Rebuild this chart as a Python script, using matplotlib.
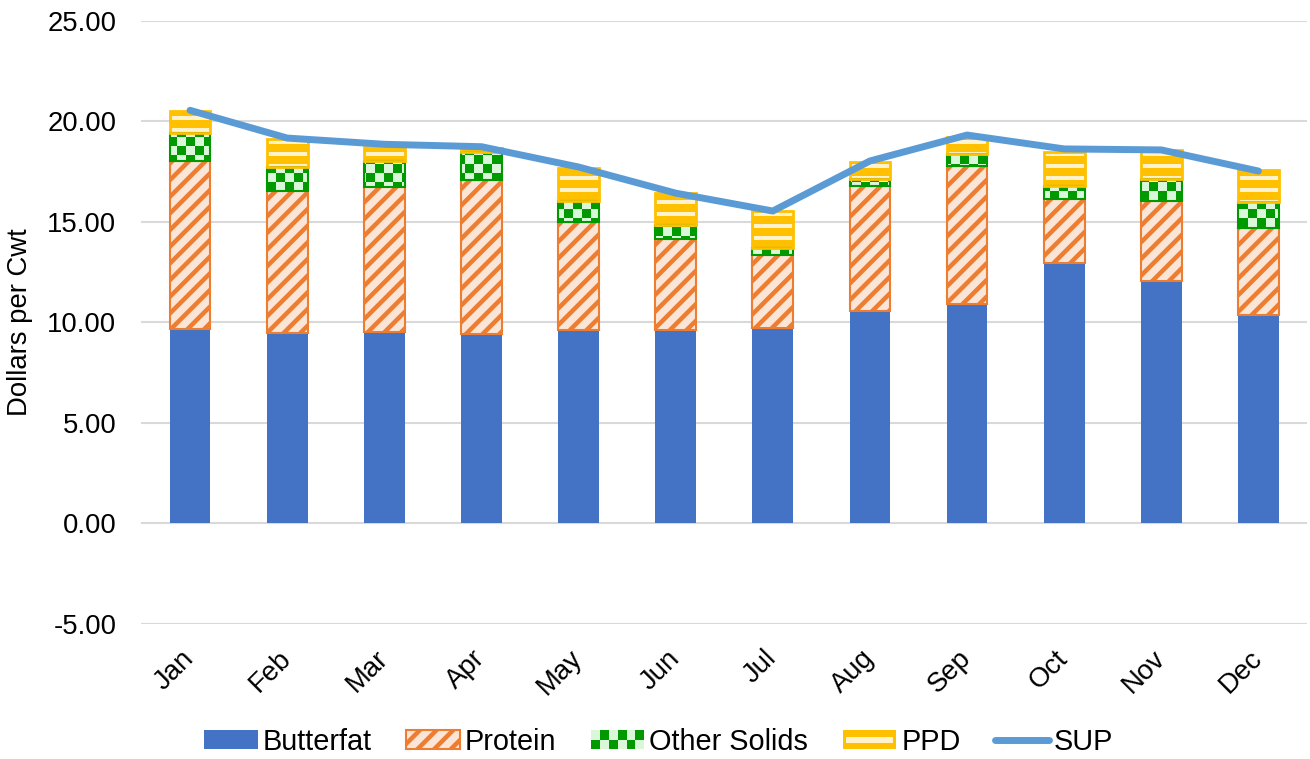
import numpy as np
import matplotlib
matplotlib.use('Agg')
import matplotlib.pyplot as plt
from matplotlib.patches import Rectangle, Patch
from matplotlib.lines import Line2D
from matplotlib.colors import ListedColormap
from matplotlib.path import Path
from matplotlib.legend_handler import HandlerBase

plt.rcParams['font.family'] = ['Liberation Sans', 'DejaVu Sans']
plt.rcParams['hatch.linewidth'] = 3.2

# Data (dollars per cwt)
mois = ['Jan', 'Feb', 'Mar', 'Apr', 'May', 'Jun', 'Jul', 'Aug', 'Sep', 'Oct', 'Nov', 'Dec']
butterfat = [9.66, 9.46, 9.51, 9.41, 9.61, 9.61, 9.71, 10.56, 10.91, 12.95, 12.05, 10.36]
protein = [8.37, 7.07, 7.22, 7.67, 5.38, 4.53, 3.64, 6.22, 6.87, 3.19, 3.99, 4.33]
other_solids = [1.39, 1.20, 1.30, 1.40, 1.05, 0.70, 0.35, 0.35, 0.60, 0.64, 1.09, 1.30]
ppd = [1.10, 1.39, 0.70, 0.19, 1.64, 1.59, 1.84, 0.85, 0.84, 1.70, 1.45, 1.59]
sup = [20.55, 19.17, 18.86, 18.74, 17.73, 16.43, 15.54, 18.03, 19.32, 18.63, 18.58, 17.53]

# Colours
bleu = '#4472C4'
orange = '#ED7D31'
peche = '#FBE5D6'
vert = '#009A00'
vert_clair = '#DAF7DA'
jaune = '#FFC000'
jaune_clair = '#FFF2CC'
bleu_clair = '#5B9BD5'
gris = '#D9D9D9'

fs = 19.8

fig = plt.figure(figsize=(13.1, 7.59), dpi=100)
pos = [0.108, 0.178, 0.8897, 0.7945]
ax = fig.add_axes(pos)

x = np.arange(len(mois))
largeur = 0.42
bas2 = np.array(butterfat) + np.array(protein)
bas3 = bas2 + np.array(other_solids)

ax.bar(x, butterfat, largeur, color=bleu, zorder=2)
ax.bar(x, protein, largeur, bottom=butterfat, facecolor=peche, edgecolor=orange,
       hatch='//', linewidth=1.5, zorder=2)
b3 = ax.bar(x, other_solids, largeur, bottom=bas2, color=vert, linewidth=0, zorder=2)
b4 = ax.bar(x, ppd, largeur, bottom=bas3, color=jaune, linewidth=0, zorder=2)
ax.plot(x, sup, color=bleu_clair, linewidth=5, solid_capstyle='round', zorder=4)

ax.set_xlim(-0.5, 11.5)
ax.set_ylim(-5, 25)

# checker and stripe fills, drawn as images clipped to the bars
W = int(round(fig.get_figwidth() * fig.dpi * pos[2]))
H = int(round(fig.get_figheight() * fig.dpi * pos[3]))
lignes, colonnes = np.indices((H, W))
damier = (lignes // 9 + colonnes // 9) % 2
rayures = ((lignes % 12) < 4).astype(int)


def motif(barres, tableau, couleurs):
    chemins = [b.get_path().transformed(b.get_patch_transform()) for b in barres]
    clip = Path.make_compound_path(*chemins)
    img = ax.imshow(tableau, cmap=ListedColormap(couleurs), extent=(-0.5, 11.5, -5, 25),
                    aspect='auto', interpolation='nearest', zorder=2.5)
    img.set_clip_path(clip, ax.transData)


motif(b3, damier, [vert, vert_clair])
motif(b4, rayures, [jaune, jaune_clair])
ax.bar(x, other_solids, largeur, bottom=bas2, fill=False, edgecolor=vert, linewidth=1.5, zorder=2.6)
ax.bar(x, ppd, largeur, bottom=bas3, fill=False, edgecolor=jaune, linewidth=2, zorder=2.6)
ax.set_xlim(-0.5, 11.5)
ax.set_ylim(-5, 25)

# axes
ax.set_yticks(np.arange(-5, 26, 5))
ax.set_yticklabels(['%.2f' % v for v in np.arange(-5, 26, 5)], fontsize=fs)
ax.set_xticks(x)
ax.set_xticklabels(mois, fontsize=fs, rotation=45, ha='right', va='center', rotation_mode='anchor')
ax.tick_params(axis='y', length=0, pad=18)
ax.tick_params(axis='x', length=0, pad=22)
ax.yaxis.grid(True, color=gris, linewidth=1.5)
ax.set_axisbelow(True)
for s in ax.spines.values():
    s.set_visible(False)
ax.set_ylabel('Dollars per Cwt', fontsize=fs, labelpad=10)


# legend with custom patterns
class MotifLegende(HandlerBase):
    def __init__(self, fond, clair, genre):
        super().__init__()
        self.fond = fond
        self.clair = clair
        self.genre = genre

    def create_artists(self, legend, orig_handle, xdescent, ydescent, width, height, fontsize, trans):
        x0, y0 = -xdescent, -ydescent
        arts = [Rectangle((x0, y0), width, height, facecolor=self.fond, edgecolor='none', transform=trans)]
        if self.genre == 'damier':
            n, m = 6, 2
            w, h = width / n, height / m
            for i in range(n):
                for j in range(m):
                    if (i + j) % 2:
                        arts.append(Rectangle((x0 + i * w, y0 + j * h), w, h, facecolor=self.clair,
                                              edgecolor='none', transform=trans))
        else:
            arts.append(Rectangle((x0 + 2, y0 + height * 0.35), width - 4, height * 0.3,
                                  facecolor=self.clair, edgecolor='none', transform=trans))
        return arts


h1 = Patch(facecolor=bleu)
h2 = Patch(facecolor=peche, edgecolor=orange, hatch='//', linewidth=1.5)
h3 = Patch(facecolor=vert)
h4 = Patch(facecolor=jaune)
h5 = Line2D([], [], color=bleu_clair, linewidth=5, solid_capstyle='round')
fig.legend([h1, h2, h3, h4, h5], ['Butterfat', 'Protein', 'Other Solids', 'PPD', 'SUP'],
           loc='center', bbox_to_anchor=(0.5027, 0.0224), ncol=5, frameon=False,
           fontsize=20.8, handlelength=1.85, handleheight=0.62, handletextpad=0.17,
           columnspacing=1.2,
           handler_map={h3: MotifLegende(vert, vert_clair, 'damier'),
                        h4: MotifLegende(jaune, jaune_clair, 'rayures')})

fig.savefig('out.png', dpi=100)
